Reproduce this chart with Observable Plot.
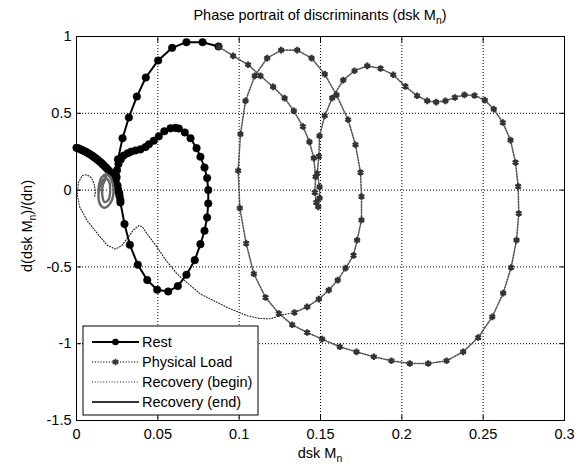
<!DOCTYPE html>
<html><head><meta charset="utf-8">
<script src="https://cdn.jsdelivr.net/npm/d3@7"></script>
<script src="https://cdn.jsdelivr.net/npm/@observablehq/plot@0.6"></script>
<style>
body{margin:0;background:#fff;}
svg{font-family:"Liberation Sans",Arial,sans-serif;}
</style>
</head><body><div id="chart"></div>
<script>
const xTicks = [0, 0.05, 0.1, 0.15, 0.2, 0.25, 0.3];
const yTicks = [-1.5, -1, -0.5, 0, 0.5, 1];
const seriesNames = ["Rest", "Physical Load", "Recovery (begin)", "Recovery (end)"];

// Rest trajectory [dskMn, d(dskMn)/dn]
const restPts = [
  [0.000,0.275],[0.001,0.272],[0.002,0.268],[0.003,0.263],[0.004,0.258],[0.005,0.253],[0.006,0.247],
  [0.007,0.241],[0.008,0.235],[0.009,0.228],[0.010,0.221],[0.011,0.213],[0.012,0.205],[0.013,0.197],
  [0.014,0.188],[0.015,0.179],[0.016,0.169],[0.017,0.159],[0.018,0.148],[0.019,0.137],[0.020,0.125],
  [0.021,0.112],[0.022,0.098],[0.023,0.082],[0.0237,0.064],[0.0243,0.045],[0.0249,0.025],[0.0255,0.005],
  [0.026,-0.015],[0.0265,-0.04],[0.027,-0.065],
  [0.0262,-0.02],[0.0252,0.03],[0.0246,0.08],[0.0249,0.13],[0.0258,0.17],[0.0272,0.2],[0.029,0.225],
  [0.0315,0.24],[0.0335,0.25],[0.0363,0.258],[0.0393,0.265],[0.0424,0.28],[0.0445,0.298],[0.0475,0.321],
  [0.0506,0.35],[0.054,0.383],[0.0578,0.402],[0.0608,0.405],[0.0629,0.401],[0.0666,0.375],[0.0701,0.338],
  [0.0738,0.273],[0.0762,0.217],[0.0787,0.147],[0.0803,0.078],[0.081,0.0],[0.081,-0.087],[0.0803,-0.178],
  [0.0787,-0.265],[0.0762,-0.352],[0.0727,-0.456],[0.0676,-0.551],[0.0623,-0.625],[0.0564,-0.66],
  [0.0496,-0.649],[0.0435,-0.586],[0.0377,-0.486],[0.0328,-0.356],[0.0295,-0.221],[0.027,-0.08],
  [0.0255,0.0],[0.0245,0.09],[0.0255,0.2],[0.0283,0.338],[0.0322,0.473],[0.0371,0.609],[0.0426,0.733],
  [0.0502,0.844],[0.0588,0.926],[0.0676,0.963],[0.0775,0.963],[0.0873,0.935]
];

const loadPts = [
  [0.0875,0.933],[0.0963,0.874],[0.1055,0.816],[0.1131,0.744],[0.1209,0.672],[0.1279,0.599],[0.1336,0.516],
  [0.1392,0.414],[0.1432,0.314],[0.1459,0.208],[0.147,0.087],[0.1465,-0.016],[0.1474,-0.08],[0.1486,-0.109],
  [0.1494,-0.052],[0.1494,0.021],[0.148,0.108],[0.149,0.22],[0.1494,0.353],[0.1526,0.484],[0.1572,0.6],
  [0.164,0.716],[0.1709,0.777],[0.1787,0.809],[0.1869,0.792],[0.1947,0.751],[0.2022,0.675],[0.2094,0.614],
  [0.2156,0.581],[0.2211,0.573],[0.2268,0.581],[0.2326,0.603],[0.2385,0.62],[0.2447,0.616],[0.251,0.586],
  [0.2565,0.527],[0.2621,0.44],[0.2668,0.325],[0.2699,0.18],[0.2715,0.024],[0.2719,-0.152],[0.2705,-0.326],
  [0.2672,-0.504],[0.2623,-0.671],[0.2556,-0.825],[0.2469,-0.96],[0.2377,-1.053],[0.2275,-1.111],
  [0.2162,-1.129],[0.2049,-1.129],[0.1936,-1.111],[0.1828,-1.085],[0.1721,-1.053],[0.1619,-1.02],
  [0.151,-0.97],[0.1418,-0.927],[0.1326,-0.877],[0.1244,-0.803],[0.1162,-0.699],[0.109,-0.545],
  [0.1043,-0.347],[0.1004,-0.117],[0.0994,0.126],[0.1008,0.365],[0.1039,0.581],[0.1096,0.744],
  [0.1172,0.859],[0.1258,0.911],[0.1357,0.911],[0.1445,0.859],[0.1526,0.755],[0.1598,0.62],[0.167,0.458],
  [0.1715,0.295],[0.1746,0.115],[0.1752,-0.042],[0.1752,-0.195],[0.1725,-0.326],[0.1703,-0.425],
  [0.1654,-0.508],[0.1606,-0.586],[0.1551,-0.651],[0.149,-0.71],[0.1418,-0.76],[0.134,-0.797]
];

const recBeginPts = [
  [0.134,-0.797],[0.1265,-0.812],[0.1193,-0.838],[0.112,-0.835],[0.105,-0.818],[0.0926,-0.764],
  [0.0762,-0.677],[0.0619,-0.547],[0.0545,-0.45],[0.0496,-0.373],[0.0445,-0.3],[0.0405,-0.24],
  [0.0385,-0.23],[0.035,-0.26],[0.0315,-0.31],[0.028,-0.36],[0.024,-0.384],[0.019,-0.36],[0.0148,-0.308],
  [0.0066,-0.2],[0.002,-0.11],[0.0004,-0.03],[0.0012,0.05],[0.0035,0.095],[0.0065,0.1],[0.0092,0.08],
  [0.0108,0.04],[0.0117,-0.01],[0.0112,-0.04]
];

const recEndPts = [
  [0.0135,-0.03],[0.0138,0.03],[0.0153,0.08],[0.018,0.102],[0.0207,0.087],[0.0223,0.04],[0.0228,-0.01],
  [0.0218,-0.065],[0.0192,-0.105],[0.0165,-0.114],[0.0143,-0.088],[0.0135,-0.03],[0.0143,0.02],[0.016,0.062],
  [0.018,0.078],[0.02,0.057],[0.0207,0.0],[0.0197,-0.062],[0.0172,-0.078],[0.0158,-0.03],[0.0161,0.03],
  [0.0178,0.072],[0.0185,0.108],[0.0172,0.092]
];

const F = "Liberation Sans, Arial, sans-serif";
const FS = 14.5;
const gridDash = "1,2";
const loadDash = "1.2,1.6";
const recDash = "1,1.8";

const chart = Plot.plot({
  width: 583, height: 471,
  marginLeft: 76, marginRight: 19, marginTop: 36, marginBottom: 51,
  style: {fontFamily: F, fontSize: FS + "px", background: "white", color: "black"},
  x: {domain: [0, 0.3]},
  y: {domain: [-1.5, 1]},
  marks: [
    Plot.ruleX(xTicks, {stroke: "#000", strokeOpacity: 1, strokeDasharray: gridDash, strokeWidth: 1}),
    Plot.ruleY(yTicks, {stroke: "#000", strokeOpacity: 1, strokeDasharray: gridDash, strokeWidth: 1}),
    Plot.line(restPts, {x: d => d[0], y: d => d[1], stroke: "#000", strokeWidth: 2, curve: "linear"}),
    Plot.dot(restPts, {x: d => d[0], y: d => d[1], r: 3.8, fill: "#000", stroke: "#000", strokeWidth: 0.5}),
    Plot.line(loadPts, {x: d => d[0], y: d => d[1], stroke: "#555", strokeWidth: 1.6, strokeDasharray: loadDash}),
    Plot.dot(loadPts, {x: d => d[0], y: d => d[1], symbol: "asterisk", r: 3.1, stroke: "#333", strokeWidth: 2.2}),
    Plot.line(recBeginPts, {x: d => d[0], y: d => d[1], stroke: "#222", strokeWidth: 1.1, strokeDasharray: recDash}),
    Plot.line(recEndPts, {x: d => d[0], y: d => d[1], stroke: "#666", strokeWidth: 2.4, curve: "catmull-rom"}),
    Plot.frame({stroke: "#000", strokeWidth: 1}),
    Plot.axisX(xTicks, {anchor: "bottom", tickSize: -5, tickPadding: 13, tickFormat: d => String(d), label: null, fontSize: FS}),
    Plot.axisX(xTicks, {anchor: "top", tickSize: -5, tickFormat: () => "", label: null}),
    Plot.axisY(yTicks, {anchor: "left", tickSize: -5, tickPadding: 10, tickFormat: d => String(d), label: null, fontSize: FS}),
    Plot.axisY(yTicks, {anchor: "right", tickSize: -5, tickFormat: () => "", label: null})
  ]
});

document.getElementById("chart").appendChild(chart);

// Titles and legend, positioned from the plot's own scales
const sx = chart.scale("x"), sy = chart.scale("y");
const [x0, x1] = sx.range, [yb, yt] = sy.range;
const svg = d3.select(chart);
const cx = (x0 + x1) / 2;

function subText(g, before, sub, after) {
  g.append("tspan").text(before);
  g.append("tspan").attr("dy", 4).attr("font-size", FS * 0.72).text(sub);
  g.append("tspan").attr("dy", -4).text(after);
}

const title = svg.append("text").attr("x", cx).attr("y", yt - 16).attr("text-anchor", "middle")
  .attr("font-size", FS).attr("font-family", F).attr("fill", "#000");
subText(title, "Phase portrait of discriminants (dsk M", "n", ")");

const xl = svg.append("text").attr("x", cx).attr("y", yb + 38).attr("text-anchor", "middle")
  .attr("font-size", FS).attr("font-family", F).attr("fill", "#000");
subText(xl, "dsk M", "n", "");

const yl = svg.append("text").attr("transform", `translate(${x0 - 44},${(yb + yt) / 2 - 2}) rotate(-90)`)
  .attr("text-anchor", "middle").attr("font-size", FS).attr("font-family", F).attr("fill", "#000");
subText(yl, "d(dsk M", "n", ")/(dn)");

// Legend
const lg = svg.append("g").attr("transform", `translate(${x0 + 7},${yb - 94})`);
lg.append("rect").attr("width", 175).attr("height", 89).attr("fill", "#fff").attr("stroke", "#000").attr("stroke-width", 1);
const rows = [
  {stroke: "#000", w: 2, dash: null, marker: "dot"},
  {stroke: "#555", w: 1.6, dash: loadDash, marker: "star"},
  {stroke: "#222", w: 1.1, dash: recDash, marker: null},
  {stroke: "#333", w: 2, dash: null, marker: null}
];
rows.forEach((r, i) => {
  const yy = 16 + i * 20;
  const ln = lg.append("line").attr("x1", 9).attr("x2", 56).attr("y1", yy).attr("y2", yy)
    .attr("stroke", r.stroke).attr("stroke-width", r.w);
  if (r.dash) ln.attr("stroke-dasharray", r.dash);
  if (r.marker === "dot") lg.append("circle").attr("cx", 32.5).attr("cy", yy).attr("r", 3.3).attr("fill", "#000");
  if (r.marker === "star") lg.append("path").attr("d", d3.symbol(d3.symbolAsterisk, 30)())
    .attr("transform", `translate(32.5,${yy})`).attr("stroke", "#333").attr("stroke-width", 1.8).attr("fill", "none");
  lg.append("text").attr("x", 59).attr("y", yy + 5).attr("text-anchor", "start").attr("font-size", FS)
    .attr("font-family", F).attr("fill", "#000").text(seriesNames[i]);
});
</script>
</body></html>
